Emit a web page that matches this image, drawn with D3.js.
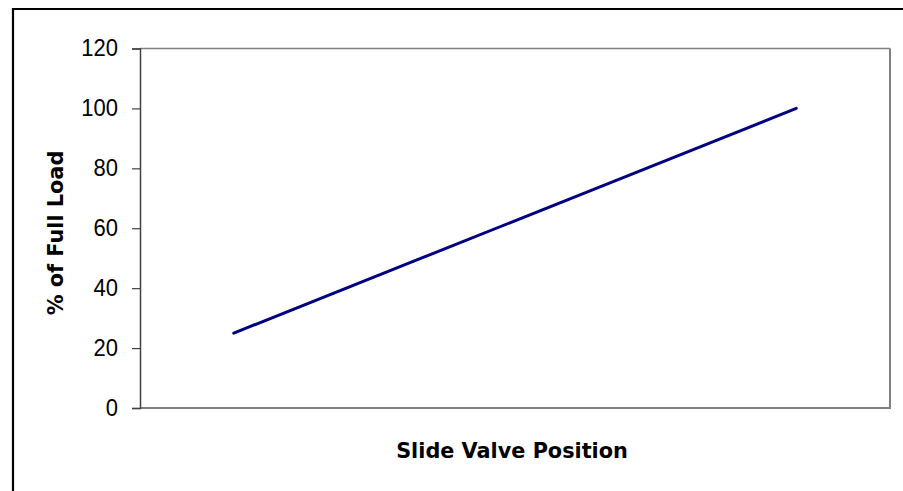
<!DOCTYPE html>
<html><head><meta charset="utf-8">
<script src="https://cdn.jsdelivr.net/npm/d3@7"></script>
<style>body{margin:0;background:#fff;}svg{display:block;}</style>
</head><body>
<svg id="c" width="903" height="491"></svg>
<script>
const categories = ["1", "2", "3", "4"];
const loadValues = [25, 50, 75, 100];
const yTicks = [0, 20, 40, 60, 80, 100, 120];
const xTitle = "Slide Valve Position";
const yTitle = "% of Full Load";

const svg = d3.select("#c");
const font = "'Liberation Sans', Arial, sans-serif";
const titleFont = "'DejaVu Sans', Verdana, sans-serif";
const L = 140, R = 890, T = 48.5, B = 408;

// outer frame (cut off at right/bottom)
svg.append("path").attr("d", "M13,491 V9 H903").attr("fill", "none").attr("stroke", "#000").attr("stroke-width", 2.2);

const x = d3.scaleBand().domain(categories).range([L, R]);
const y = d3.scaleLinear().domain([0, 120]).range([B, T]);

// plot area border
svg.append("path").attr("d", `M${L},${T} H${R}`).attr("stroke", "#808080").attr("stroke-width", 1.3);
svg.append("path").attr("d", `M${R},${T} V${B} H${L}`).attr("fill", "none").attr("stroke", "#808080").attr("stroke-width", 2);

const yAxis = svg.append("g").attr("transform", `translate(${L},0)`)
  .call(d3.axisLeft(y).tickValues(yTicks).tickSize(8).tickPadding(14).tickFormat(d3.format("d")));
yAxis.select(".domain").attr("stroke", "#404040").attr("stroke-width", 1.5);
yAxis.selectAll(".tick line").attr("stroke", "#404040").attr("stroke-width", 1.2);
yAxis.selectAll(".tick text").attr("font-family", font).attr("font-size", 22).attr("fill", "#000")
  .attr("dy", "0.3em").attr("transform", "scale(1,1.08)");

const line = d3.line().x((d, i) => x(categories[i]) + x.bandwidth() / 2).y(d => y(d));
svg.append("path").datum(loadValues).attr("d", line)
  .attr("fill", "none").attr("stroke", "#000080").attr("stroke-width", 3).attr("stroke-linecap", "round");

svg.append("text").attr("x", 512).attr("y", 457.5).attr("text-anchor", "middle")
  .attr("font-family", titleFont).attr("font-weight", "bold").attr("font-size", 20.8)
  .text(xTitle);

svg.append("text").attr("transform", "translate(63,233) rotate(-90)").attr("text-anchor", "middle")
  .attr("font-family", titleFont).attr("font-weight", "bold").attr("font-size", 20.8)
  .text(yTitle);
</script>
</body></html>
